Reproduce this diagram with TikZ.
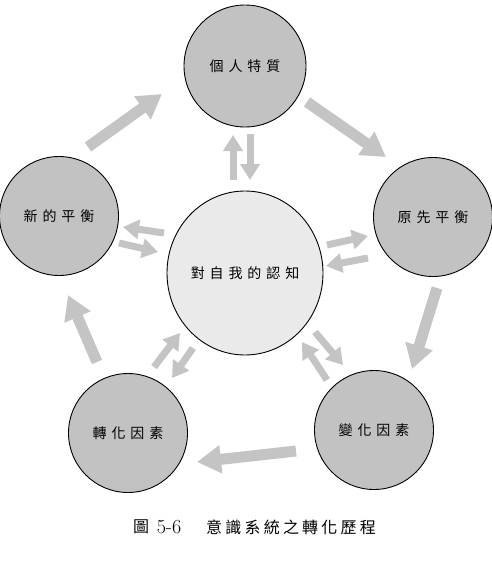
\documentclass[tikz,border=0pt]{standalone}
\usepackage{fontspec}
\usetikzlibrary{arrows.meta,shapes.geometric}
\newfontfamily\cjk[LetterSpace=35]{Noto Sans CJK TC}
\newfontfamily\cjkcap[LetterSpace=20]{Noto Sans CJK TC}
\definecolor{arrowgray}{HTML}{C4C4C4}
\definecolor{outerfill}{HTML}{C2C2C2}
\definecolor{innerfill}{HTML}{EAEAEA}
\begin{document}
\begin{tikzpicture}[x=1pt,y=-1pt,
  outer/.style={circle,draw=black,line width=0.9pt,fill=outerfill,minimum size=119pt,inner sep=0pt,font=\cjk\fontsize{14}{14}\selectfont},
  inner/.style={ellipse,draw=black,line width=0.9pt,fill=innerfill,minimum width=156pt,minimum height=164pt,inner sep=0pt,font=\cjk\fontsize{14}{14}\selectfont},
  bigarrow/.style={draw=arrowgray,line width=11pt,-{Triangle[width=27pt,length=24pt]}},
  smallarrow/.style={draw=arrowgray,line width=7pt,-{Triangle[width=19pt,length=16pt]}}]
\useasboundingbox (0,0) rectangle (491,565);
% nodes
\node[outer,minimum size=122pt] (P) at (245,66) {個人特質};
\node[outer] (O) at (433,217) {原先平衡};
\node[outer] (B) at (374,430) {變化因素};
\node[outer] (T) at (128,433) {轉化因素};
\node[outer] (N) at (59,216) {新的平衡};
\node[inner] (C) at (245,273) {對自我的認知};
% big arrow endpoints
\coordinate (np1) at (88,147);  \coordinate (np2) at (162,94);
\coordinate (po1) at (307,102); \coordinate (po2) at (386,157);
\coordinate (ob1) at (437,288); \coordinate (ob2) at (412,369);
\coordinate (bt1) at (296,451); \coordinate (bt2) at (197,462);
\coordinate (tn1) at (97,362);  \coordinate (tn2) at (68,295);
\draw[bigarrow] (np1) -- (np2);
\draw[bigarrow] (po1) -- (po2);
\draw[bigarrow] (ob1) -- (ob2);
\draw[bigarrow] (bt1) -- (bt2);
\draw[bigarrow] (tn1) -- (tn2);
% small arrow endpoints
\coordinate (cp1) at (233,180); \coordinate (cp2) at (233,135);
\coordinate (pc1) at (250,134); \coordinate (pc2) at (250,180);
\coordinate (cn1) at (164,233); \coordinate (cn2) at (123,227);
\coordinate (nc1) at (119,243); \coordinate (nc2) at (158,252);
\coordinate (co1) at (327,245); \coordinate (co2) at (368,236);
\coordinate (oc1) at (368,258); \coordinate (oc2) at (326,266);
\coordinate (ct1) at (193,348); \coordinate (ct2) at (172,378);
\coordinate (tc1) at (154,367); \coordinate (tc2) at (180,333);
\coordinate (cb1) at (315,332); \coordinate (cb2) at (343,365);
\coordinate (bc1) at (327,380); \coordinate (bc2) at (302,342);
\draw[smallarrow] (cp1) -- (cp2);
\draw[smallarrow] (pc1) -- (pc2);
\draw[smallarrow] (cn1) -- (cn2);
\draw[smallarrow] (nc1) -- (nc2);
\draw[smallarrow] (co1) -- (co2);
\draw[smallarrow] (oc1) -- (oc2);
\draw[smallarrow] (ct1) -- (ct2);
\draw[smallarrow] (tc1) -- (tc2);
\draw[smallarrow] (cb1) -- (cb2);
\draw[smallarrow] (bc1) -- (bc2);
% caption
\node[font=\cjkcap\fontsize{16}{16}\selectfont,inner sep=0pt] (cap1) at (141,527) {圖};
\node[font=\fontsize{20}{20}\selectfont,inner sep=0pt] (cap2) at (169,527) {5-6};
\node[font=\cjkcap\fontsize{16}{16}\selectfont,inner sep=0pt] (cap3) at (291,527) {意識系統之轉化歷程};
\end{tikzpicture}
\end{document}
